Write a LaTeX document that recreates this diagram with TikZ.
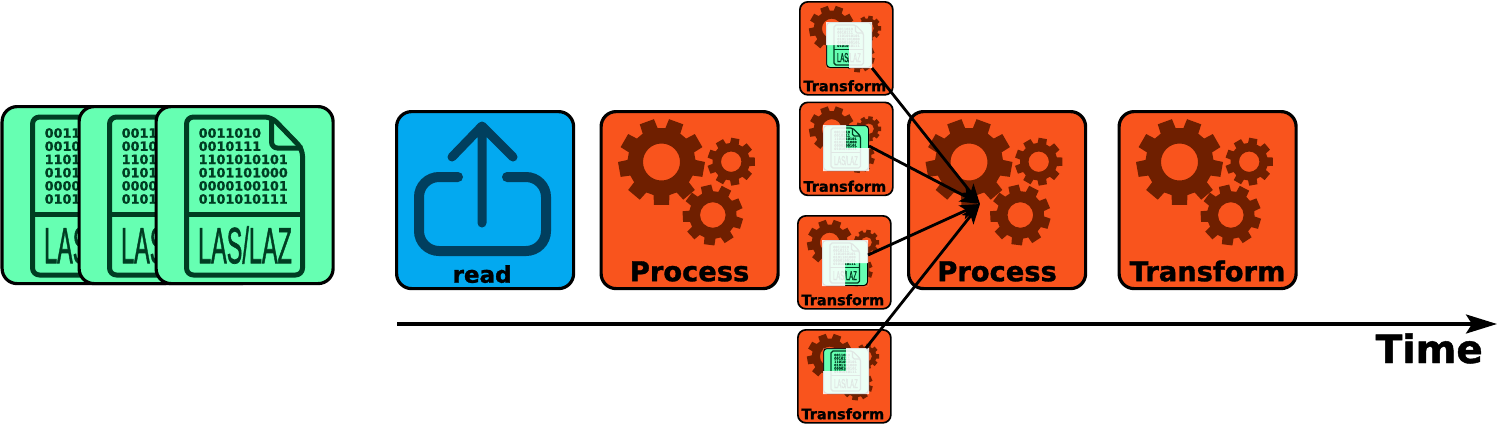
\documentclass[tikz,border=0pt]{standalone}
\usepackage{fontspec}
\setmainfont{DejaVu Sans}[BoldFeatures={FakeBold=1.2}]
\newfontfamily\lasfont{Liberation Sans}[FakeBold=1.5]
\usetikzlibrary{arrows.meta}
\definecolor{lasfill}{HTML}{66FFB2}
\definecolor{lasdark}{HTML}{003D22}
\definecolor{readfill}{HTML}{03A9F0}
\definecolor{readdark}{HTML}{013F5E}
\definecolor{procfill}{HTML}{F9541D}
\definecolor{procdark}{HTML}{6F1F00}
\tikzset{
    bigbox/.style={draw, anchor=north west, inner sep=0pt, minimum size=177pt,
        rounded corners=15pt, line width=3.2pt},
    smallbox/.style={draw, anchor=north west, inner sep=0pt, minimum size=93pt,
        rounded corners=8pt, line width=1.7pt, fill=procfill},
    cardbox/.style={draw, anchor=north west, inner sep=0pt, minimum size=45pt,
        rounded corners=3.5pt, line width=1pt, fill=lasfill},
    biglabel/.style={anchor=base, font=\bfseries\fontsize{27.3}{27}\selectfont},
    smalllabel/.style={anchor=base, font=\bfseries\fontsize{14.5}{14}\selectfont},
    flow/.style={line width=2.8pt, -{Stealth[length=20pt,width=15pt,inset=5pt]}},
    veil/.style={fill=white, opacity=.88, even odd rule},
}
% #1 outer, #2 root, #3 hole, #4 start angle
\newcommand\onegear[4]{
    \fill[procdark, even odd rule] ({#4-13.5}:#2)
        \foreach \k in {0,...,8} {
            -- ({#4+\k*40-13.5}:#2) -- ({#4+\k*40-10}:#1)
            -- ({#4+\k*40+10}:#1) -- ({#4+\k*40+13.5}:#2)
        } -- cycle (0,0) circle (#3);
}
\newcommand\gears{
    \begin{scope}[shift={(62,52)}]\onegear{43.5}{34}{18.5}{90}\end{scope}
    \begin{scope}[shift={(131.7,51.7)}]\onegear{24}{18.7}{10.2}{0}\end{scope}
    \begin{scope}[shift={(113.3,105)}]\onegear{30.5}{23.8}{12.8}{17}\end{scope}
}
% file icon, #1 = scale of the icon
\newcommand\lasicon[1]{
    \draw[lasdark, line width=#1*5pt, rounded corners=#1*7pt, line join=round]
        (117,12) -- (32,12) -- (32,170) -- (148,170) -- (148,44) -- cycle;
    \draw[lasdark, line width=#1*5pt, rounded corners=#1*6pt]
        (117,12) -- (117,43) -- (148,43);
    \draw[lasdark, line width=#1*5pt] (32,109) -- (148,109);
    \node[lasdark, transform shape, anchor=north west, inner sep=0pt, align=left,
        font=\bfseries\fontsize{12.8}{13.2}\selectfont] (bits) at (44,23)
        {0011010\\0010111\\1101010101\\0101101000\\0000100101\\0101010111};
    \node[lasdark, transform shape, inner sep=0pt, xscale=.46, yscale=1,
        font=\lasfont\fontsize{51}{51}\selectfont] (fmt) at (90.5,140) {LAS/LAZ};
}
\begin{document}
\begin{tikzpicture}[x=1pt, y=-1pt]
    \useasboundingbox (0,0) rectangle (1497,424);
    % input files
    \foreach \i/\x in {1/.5,2/77.5,3/154.5} {
        \node[bigbox, fill=lasfill] (las-\i) at (\x,105) {};
        \begin{scope}[shift={(\x,105)}]
            \lasicon{1}
        \end{scope}
    }
    % reader
    \node[bigbox, fill=readfill] (rd) at (395,110) {};
    \draw[readdark, line width=10pt, line cap=round, rounded corners=20pt]
        (458,177) -- (419,177) -- (419,251) -- (546,251) -- (546,177) -- (507,177);
    \draw[readdark, line width=9pt, line cap=round, line join=round]
        (482,223) -- (482,126) (452,157) -- (482,126) -- (513,157);
    \node[biglabel, font=\bfseries\fontsize{23}{23}\selectfont] (rd-t) at ([xshift=-3pt, yshift=7.5pt]rd.south) {read};
    % processing boxes
    \foreach \n/\x/\t in {pa/599.5/Process,pb/907/Process,pc/1117.5/Transform} {
        \node[bigbox, fill=procfill] (\n) at (\x,110) {};
        \begin{scope}[shift={(\x,110)}]
            \gears
        \end{scope}
        \node[biglabel] (\n-t) at ([yshift=9pt]\n.south) {\t};
    }
    % small transforms
    \foreach \i/\x/\y/\cx/\cy/\qa/\qb in {
        1/799/1/826/22/south/west,
        2/799/101.5/823/125/north/east,
        3/797/215/822/240/south/east,
        4/797/329/823/348/north/west} {
        \node[smallbox] (tr-\i) at (\x,\y) {};
        \begin{scope}[shift={(\x,\y)}, scale=.528]
            \gears
        \end{scope}
        \node[smalllabel] (tr-\i-t) at ([xshift=-1.5pt, yshift=4.5pt]tr-\i.south) {Transform};
        \node[cardbox] (card-\i) at (\cx,\cy) {};
        \begin{scope}[shift={(\cx,\cy)}, scale=.253]
            \lasicon{.253}
        \end{scope}
        \fill[veil] (card-\i.north west) rectangle (card-\i.south east)
            (card-\i.center) rectangle (card-\i.\qa\space\qb);
    }
    % time axis
    \coordinate (t0) at (397,324);
    \coordinate (t1) at (1497,324);
    \draw[line width=3.3pt, -{Stealth[length=31pt,width=19pt,inset=6pt]}] (t0) -- (t1);
    \node[anchor=base east, inner sep=0pt, font=\bfseries\fontsize{39}{39}\selectfont] (tm) at (1483,363) {Time};
    % merge
    \coordinate (hub) at (980,204);
    \draw[flow] (card-1.south east) -- (hub);
    \draw[flow] (card-2.east) ++(0,-2) -- (hub);
    \draw[flow] (card-3.east) ++(0,-8) -- (hub);
    \draw[flow] (card-4.north east) ++(-3,0) -- (hub);
\end{tikzpicture}
\end{document}
